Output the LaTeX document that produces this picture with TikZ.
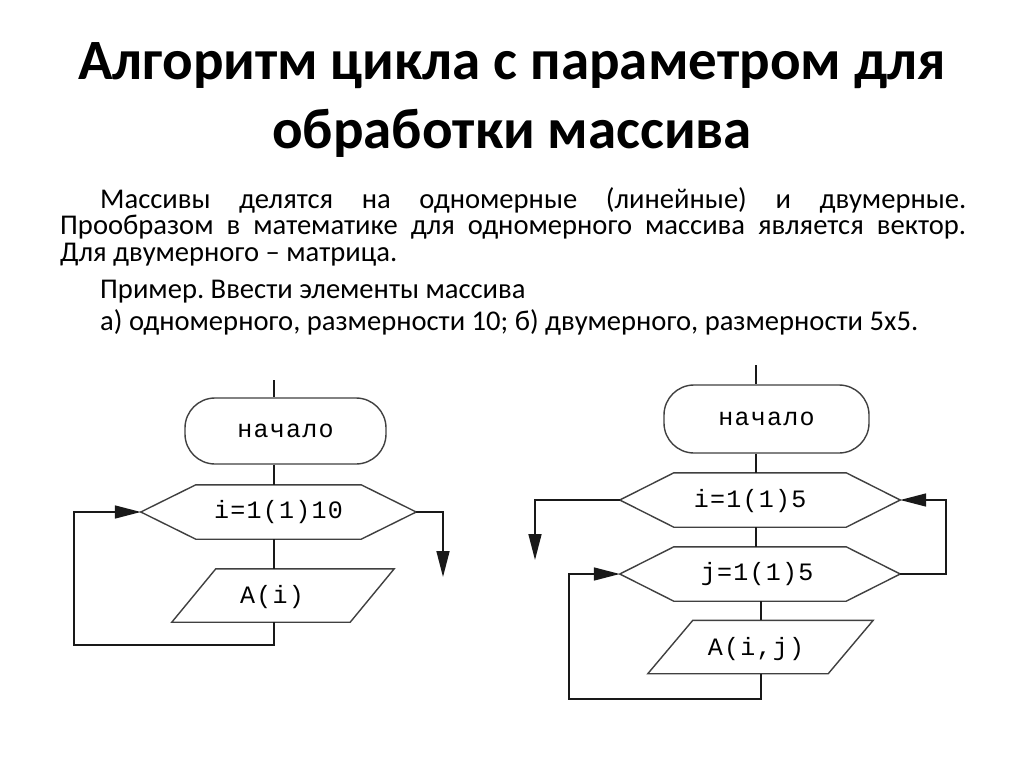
\documentclass[tikz,border=0pt]{standalone}
\usepackage{fontspec}
\setmainfont{Carlito}
\newfontfamily\flowfont[LetterSpace=5]{Liberation Mono}
\usetikzlibrary{arrows.meta,positioning,calc}
\frenchspacing

\newcommand\hexframe[2]{%
  \draw[shapeline] (#1.west) -- ([xshift=#2]#1.north west) -- ([xshift=-#2]#1.north east)
    -- (#1.east) -- ([xshift=-#2]#1.south east) -- ([xshift=#2]#1.south west) -- cycle;}
\newcommand\paraframe[2]{%
  \draw[shapeline] ([xshift=#2]#1.north west) -- (#1.north east)
    -- ([xshift=-#2]#1.south east) -- (#1.south west) -- cycle;}

\begin{document}
\begin{tikzpicture}[x=1pt,y=-1pt,
    shapeline/.style={line width=1.4pt,black!75},
    flow/.style={line width=1.6pt,black!90},
    arr/.style={flow,-{Triangle[length=26pt,width=13pt]}},
    term/.style={shapeline,draw,rounded corners=30pt,inner sep=0pt,text=black,
      font=\flowfont\fontsize{25}{25}\selectfont},
    cyclebox/.style={minimum height=54pt,inner sep=0pt},
    iobox/.style={minimum height=53pt,inner sep=0pt},
    ftext/.style={inner sep=0pt,font=\flowfont\fontsize{25}{25}\selectfont},
    title/.style={anchor=base,inner sep=0pt,font=\bfseries\fontsize{57}{57}\selectfont},
    body/.style={anchor=base west,inner sep=0pt,text height=19pt,text depth=6pt,
      font=\fontsize{28.6}{28.6}\selectfont}]

  \useasboundingbox[fill=white] (0,0) rectangle (1024,767);

  \node[title] (title1) at (512,80) {Алгоритм цикла с параметром для};
  \node[title] (title2) at (512,149) {обработки массива};

  \node[body] (line1) at (100,209) {\makebox[866pt][s]{Массивы делятся на одномерные (линейные) и двумерные.}};
  \node[body] (line2) at (60,235) {\makebox[906pt][s]{Прообразом в математике для одномерного массива является вектор.}};
  \node[body] (line3) at (60,261) {Для двумерного – матрица.};
  \node[body] (line4) at (100,298) {Пример. Ввести элементы массива};
  \node[body] (line5) at (100,330) {а) одномерного, размерности 10; б) двумерного, размерности 5х5.};

  % a) one-dimensional
  \coordinate (lTop) at (274,380);
  \node[term,minimum width=201pt,minimum height=66pt] (lStart) at (285.5,431) {начало};
  \node[cyclebox,minimum width=275pt] (lLoop) at (278.5,512) {};
  \hexframe{lLoop}{55pt}
  \node[ftext] (lLoopText) at (lLoop.center) {i=1(1)10};
  \node[iobox,minimum width=222pt] (lIn) at (283,595.5) {};
  \paraframe{lIn}{44pt}
  \node[ftext] (lInText) at (272,597) {A(i)};
  \coordinate (lBack) at (274,645);
  \coordinate (lLeft) at (74,645);
  \coordinate (lExit) at (443,577);

  \draw[flow] (lTop) -- (lTop |- lStart.north);
  \draw[flow] (lTop |- lStart.south) -- (lTop |- lLoop.north);
  \draw[flow] (lTop |- lLoop.south) -- (lTop |- lIn.north);
  \draw[arr] (lTop |- lIn.south) -- (lBack) -- (lLeft) |- (lLoop.west);
  \draw[arr] (lLoop.east) -| (lExit);

  % b) two-dimensional
  \coordinate (rTop) at (756,365);
  \node[term,minimum width=205pt,minimum height=68pt] (rStart) at (766.5,419) {начало};
  \node[cyclebox,minimum width=280pt] (rOuter) at (760,500) {};
  \hexframe{rOuter}{54pt}
  \node[ftext] (rOuterText) at (750,501) {i=1(1)5};
  \node[cyclebox,minimum width=280pt] (rInner) at (760,574) {};
  \hexframe{rInner}{54pt}
  \node[ftext] (rInnerText) at (757,574) {j=1(1)5};
  \node[iobox,minimum width=225pt] (rIn) at (760.5,647) {};
  \paraframe{rIn}{45pt}
  \node[ftext] (rInText) at (756,649) {A(i,j)};
  \coordinate (rAxis) at (761,699);
  \coordinate (rLeft) at (569,699);
  \coordinate (rRight) at (946,500);
  \coordinate (rExit) at (535,560);

  \draw[flow] (rTop) -- (rTop |- rStart.north);
  \draw[flow] (rTop |- rStart.south) -- (rTop |- rOuter.north);
  \draw[flow] (rTop |- rOuter.south) -- (rTop |- rInner.north);
  \draw[flow] (rAxis |- rInner.south) -- (rAxis |- rIn.north);
  \draw[arr] (rAxis |- rIn.south) -- (rAxis) -- (rLeft) |- (rInner.west);
  \draw[arr] (rInner.east) -| (rRight) -- (rOuter.east);
  \draw[arr] (rOuter.west) -| (rExit);
\end{tikzpicture}
\end{document}
